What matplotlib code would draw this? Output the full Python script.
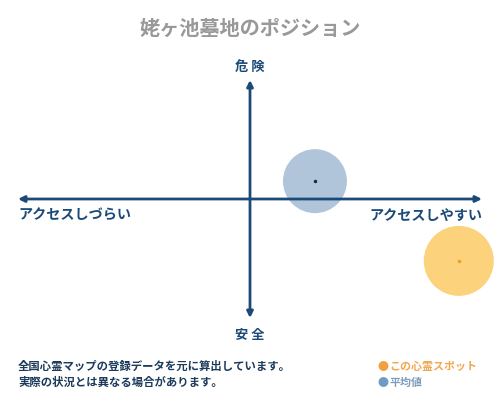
import matplotlib.pyplot as plt
from matplotlib.patches import Ellipse

plt.rcParams['font.family'] = ['Noto Sans CJK JP', 'DejaVu Sans']

# positions on the map, -1..1 on both axes
names = ['平均値', 'この心霊スポット']
x_vals = [0.28, 0.90]
y_vals = [0.15, -0.52]
fill_colors = ['#b1c5da', '#fdd27c']
dot_colors = ['#1b2b44', '#f0a020']

navy = '#1c4a78'

fig = plt.figure(figsize=(5, 4), dpi=100)
ax = fig.add_axes([0.036, 0.205, 0.928, 0.595])
ax.set_xlim(-1, 1)
ax.set_ylim(-1, 1)
ax.axis('off')

# circle radii in pixels converted to data units
rx = 2 / 464.0
ry = 2 / 238.0
radii = [32, 35]
for x, y, r, fc, dc in zip(x_vals, y_vals, radii, fill_colors, dot_colors):
    ax.add_patch(Ellipse((x, y), r * 2 * rx, r * 2 * ry, color=fc, lw=0,
                         zorder=1, clip_on=False))
    ax.plot(x, y, 'o', color=dc, ms=1.5, zorder=4, clip_on=False)

arrow = dict(arrowstyle='<|-|>', color=navy, lw=2, mutation_scale=9, shrinkA=0, shrinkB=0)
ax.annotate('', xy=(-1, 0), xytext=(1, 0), arrowprops=arrow, zorder=3)
ax.annotate('', xy=(0, 1), xytext=(0, -1), arrowprops=arrow, zorder=3)

fig.text(0.5, 0.93, '姥ヶ池墓地のポジション', ha='center', va='center',
         fontsize=14.5, color='#999999', fontweight='bold')
fig.text(0.5, 0.832, '危 険', ha='center', va='center', fontsize=9.5,
         color=navy, fontweight='bold')
fig.text(0.5, 0.162, '安 全', ha='center', va='center', fontsize=9.5,
         color=navy, fontweight='bold')
fig.text(0.036, 0.46, 'アクセスしづらい', ha='left', va='center', fontsize=10.2,
         color=navy, fontweight='bold')
fig.text(0.964, 0.46, 'アクセスしやすい', ha='right', va='center', fontsize=10.2,
         color=navy, fontweight='bold')

fig.text(0.036, 0.083, '全国心霊マップの登録データを元に算出しています。',
         ha='left', va='center', fontsize=8.2, color='#1c3a5c', fontweight='bold')
fig.text(0.036, 0.043, '実際の状況とは異なる場合があります。',
         ha='left', va='center', fontsize=8.2, color='#1c3a5c', fontweight='bold')

fig.text(0.766, 0.083, '●', ha='center', va='center', fontsize=8, color='#f0a040')
fig.text(0.778, 0.083, 'この心霊スポット', ha='left', va='center', fontsize=7.9,
         color='#f0a850', fontweight='bold')
fig.text(0.766, 0.043, '●', ha='center', va='center', fontsize=8, color='#6e9cc4')
fig.text(0.778, 0.043, '平均値', ha='left', va='center', fontsize=7.9,
         color='#7d9cbc', fontweight='bold')

fig.savefig('out.png', dpi=100)
